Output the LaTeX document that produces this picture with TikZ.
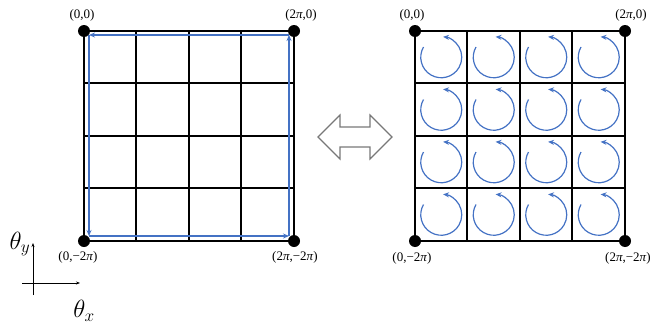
\documentclass[tikz,border=0pt]{standalone}
\usepackage{fontspec}
\setmainfont{Liberation Serif}
\usetikzlibrary{arrows.meta, positioning}
\definecolor{loopblue}{RGB}{68,114,196}
\definecolor{arrowgray}{RGB}{120,120,120}

\begin{document}
\begin{tikzpicture}[x=1pt, y=-1pt,
  corner/.style={circle, fill=black, inner sep=0pt, minimum size=12pt},
  gridline/.style={black, line width=1.3pt},
  flow/.style={loopblue, line width=1.2pt, -{Stealth[length=6pt, width=5pt]}},
  coordlabel/.style={font=\fontsize{13}{13}\selectfont, inner sep=1pt},
  axislabel/.style={font=\fontsize{26}{26}\selectfont, inner sep=0pt}]
  \useasboundingbox (0,0) rectangle (653,324);

  % Plain torus grid with boundary loop
  \begin{scope}[shift={(84,31)}]
    \foreach \p in {0,52,105,157,210} {
      \draw[gridline] (\p,0) -- (\p,210);
      \draw[gridline] (0,\p) -- (210,\p);
    }
    % boundary loop
    \coordinate (ptl) at (5,4);
    \coordinate (ptr) at (205,4);
    \coordinate (pbl) at (5,205);
    \coordinate (pbr) at (205,205);
    \draw[flow] (pbl) -- (pbr);
    \draw[flow] (pbr) -- (ptr);
    \draw[flow] (ptr) -- (ptl);
    \draw[flow] (ptl) -- (pbl);
    % corners
    \node[corner] (ltl) at (0,0) {};
    \node[corner] (ltr) at (210,0) {};
    \node[corner] (lbl) at (0,210) {};
    \node[corner] (lbr) at (210,210) {};
    \node[coordlabel, above=2pt of ltl, xshift=-2pt] {(0,0)};
    \node[coordlabel, above=2pt of ltr, xshift=7pt] {(2\textit{π},0)};
    \node[coordlabel, below=3pt of lbl, xshift=-6pt] {(0,−2\textit{π})};
    \node[coordlabel, below=3pt of lbr, xshift=1pt] {(2\textit{π},−2\textit{π})};
  \end{scope}

  % equivalence arrow
  \draw[arrowgray, line width=1.2pt, line join=miter]
    (318,137) -- (340,115) -- (340,127) -- (370,127) -- (370,115)
    -- (392,137) -- (370,159) -- (370,147) -- (340,147) -- (340,159) -- cycle;

  % Grid with a small loop in every plaquette
  \begin{scope}[shift={(415,31)}]
    \foreach \p in {0,52,105,157,210} {
      \draw[gridline] (\p,0) -- (\p,210);
      \draw[gridline] (0,\p) -- (210,\p);
    }
    % plaquette loops
    \foreach \i in {0,...,3} \foreach \j in {0,...,3}
      \draw[flow] (\i*52.5+26.25,\j*52.5+26.25) ++(-150:20.5)
        arc[start angle=-150, end angle=-445, radius=20.5];
    % corners
    \node[corner] (rtl) at (0,0) {};
    \node[corner] (rtr) at (210,0) {};
    \node[corner] (rbl) at (0,210) {};
    \node[corner] (rbr) at (210,210) {};
    \node[coordlabel, above=2pt of rtl, xshift=-3pt] {(0,0)};
    \node[coordlabel, above=2pt of rtr, xshift=6pt] {(2\textit{π},0)};
    \node[coordlabel, below=4pt of rbl, xshift=-3pt] {(0,−2\textit{π})};
    \node[coordlabel, below=4pt of rbr, xshift=3pt] {(2\textit{π},−2\textit{π})};
  \end{scope}

  % parameter axes
  \coordinate (ax0) at (33,283);
  \coordinate (axy) at (33,243);
  \coordinate (axx) at (80,283);
  \draw[line width=0.9pt, -{Stealth[length=4pt, width=3pt]}] (33,295) -- (axy);
  \draw[line width=0.9pt, -{Stealth[length=4pt, width=3pt]}] (22,283) -- (axx);
  \node[axislabel] (thy) at (20,244) {$\theta_y$};
  \node[axislabel] (thx) at (84,311) {$\theta_x$};
\end{tikzpicture}
\end{document}
